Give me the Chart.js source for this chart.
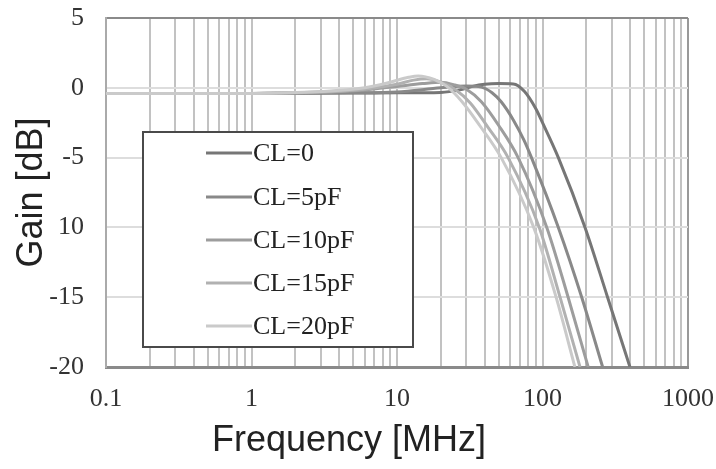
<!DOCTYPE html>
<html lang="en">
<head>
    <meta charset="UTF-8">
    <title>Gain vs Frequency</title>
    <script src="https://cdn.jsdelivr.net/npm/chart.js"></script>
    <style>
        body {
            margin: 0;
            background: white;
        }
        .chart-box {
            width: 716px;
            height: 469px;
        }
    </style>
</head>
<body>

    <div class="chart-box"><canvas id="gainChart"></canvas></div>

    <script>
        // series: frequency in MHz, gain in dB
        let seriesNames = ["CL=0", "CL=5pF", "CL=10pF", "CL=15pF", "CL=20pF"];

        let freqCL0 = [0.1, 1, 5, 10, 20, 27, 33, 40, 50, 63, 75, 90, 100, 128.5, 196, 280, 399];
        let gainCL0 = [-0.4, -0.4, -0.38, -0.36, -0.33, -0.15, 0.1, 0.25, 0.3, 0.28, -0.25, -1.5, -2.5, -5.0, -10.0, -15.0, -20.0];

        let freqCL5 = [0.1, 1, 5, 10, 20, 30, 38, 45, 52, 63, 75, 84, 128.5, 186, 259];
        let gainCL5 = [-0.4, -0.4, -0.36, -0.3, 0.0, 0.12, 0.05, -0.35, -1.0, -2.3, -3.8, -5.0, -10.0, -15.0, -20.0];

        let freqCL10 = [0.1, 1, 3, 6, 10, 15, 20, 25, 30, 38, 50, 68, 107, 150, 206];
        let gainCL10 = [-0.4, -0.4, -0.32, -0.15, 0.1, 0.3, 0.4, 0.2, -0.1, -1.0, -2.7, -5.0, -10.0, -15.0, -20.0];

        let freqCL15 = [0.1, 1, 3, 6, 10, 13, 16, 20, 25, 32, 42, 58, 95, 132, 181];
        let gainCL15 = [-0.4, -0.4, -0.3, -0.1, 0.25, 0.55, 0.65, 0.4, -0.1, -1.1, -2.8, -5.0, -10.0, -15.0, -20.0];

        let freqCL20 = [0.1, 1, 3, 6, 9, 12, 14, 18, 22, 28, 37, 52, 87, 124, 167];
        let gainCL20 = [-0.4, -0.4, -0.27, 0.0, 0.4, 0.75, 0.85, 0.6, 0.1, -1.0, -2.7, -5.0, -10.0, -15.0, -20.0];

        let lineColors = ["#767676", "#898989", "#9d9d9d", "#b1b1b1", "#cacaca"];

        // axis ticks and their printed labels
        let xGridValues = [];
        [0.1, 1, 10, 100].forEach(decade => {
            for (let m = 1; m <= 9; m++) xGridValues.push(+(decade * m).toPrecision(3));
        });
        xGridValues.push(1000);
        let xLabelValues = [0.1, 1, 10, 100, 1000];
        let xLabels = ["0.1", "1", "10", "100", "1000"];

        let yTickValues = [-20, -15, -10, -5, 0, 5];
        let yLabels = ["-20", "-15", "10", "-5", "0", "5"];

        let allFreqs = [freqCL0, freqCL5, freqCL10, freqCL15, freqCL20];
        let allGains = [gainCL0, gainCL5, gainCL10, gainCL15, gainCL20];

        let datasets = seriesNames.map((name, i) => ({
            label: name,
            data: allFreqs[i].map((f, j) => ({ x: f, y: allGains[i][j] })),
            borderColor: lineColors[i],
            borderWidth: 3,
            pointRadius: 0,
            fill: false,
            cubicInterpolationMode: 'monotone',
            clip: 0
        })).reverse();  // CL=0 drawn last, on top

        // legend box and x title drawn straight on the canvas
        const extrasPlugin = {
            id: 'extras',
            afterDatasetsDraw(chart) {
                let c = chart.ctx;
                c.save();
                c.fillStyle = "white";
                c.fillRect(143, 132, 270, 215);
                c.strokeStyle = "#4a4a4a";
                c.lineWidth = 2;
                c.strokeRect(143, 132, 270, 215);

                let rows = [153, 197, 240, 283, 326];
                c.font = "26px 'Liberation Serif'";
                c.textBaseline = "middle";
                c.textAlign = "left";
                seriesNames.forEach((name, i) => {
                    c.strokeStyle = lineColors[i];
                    c.lineWidth = 3;
                    c.beginPath();
                    c.moveTo(206, rows[i]);
                    c.lineTo(252, rows[i]);
                    c.stroke();
                    c.fillStyle = "#222";
                    c.fillText(name, 253, rows[i] + 1);
                });

                c.font = "36px 'Liberation Sans'";
                c.textAlign = "center";
                c.fillStyle = "#222";
                c.fillText("Frequency [MHz]", 349, 441);
                c.restore();
            }
        };

        let ctx = document.getElementById('gainChart').getContext('2d');
        let gainChart = new Chart(ctx, {
            type: 'line',
            data: { datasets: datasets },
            options: {
                responsive: true,
                maintainAspectRatio: false,
                animation: false,
                layout: { padding: { top: 18, right: 28, left: 0, bottom: 0 } },
                plugins: {
                    legend: { display: false },
                    tooltip: { enabled: false }
                },
                scales: {
                    x: {
                        type: 'logarithmic',
                        min: 0.1,
                        max: 1000,
                        afterBuildTicks: axis => {
                            axis.ticks = xGridValues.map(v => ({ value: v }));
                        },
                        afterFit: axis => {
                            axis.height = 102;
                            axis.paddingLeft = 0;
                            axis.paddingRight = 0;
                        },
                        ticks: {
                            autoSkip: false,
                            maxRotation: 0,
                            padding: 17,
                            color: "#333",
                            font: { family: "'Liberation Serif'", size: 26 },
                            callback: value => {
                                let k = xLabelValues.indexOf(value);
                                return k >= 0 ? xLabels[k] : "";
                            }
                        },
                        grid: {
                            drawTicks: false,
                            color: c => c.tick && c.tick.value === 1000 ? "#999" : "#c2c2c2",
                            lineWidth: 2
                        },
                        border: { color: "#8a8a8a", width: 3 }
                    },
                    y: {
                        min: -20,
                        max: 5,
                        afterBuildTicks: axis => {
                            axis.ticks = yTickValues.map(v => ({ value: v }));
                        },
                        afterFit: axis => {
                            axis.width = 106;
                            axis.paddingTop = 0;
                            axis.paddingBottom = 0;
                        },
                        ticks: {
                            padding: 22,
                            color: "#333",
                            font: { family: "'Liberation Serif'", size: 26 },
                            callback: value => {
                                let k = yTickValues.indexOf(value);
                                return k >= 0 ? yLabels[k] : "";
                            }
                        },
                        grid: {
                            drawTicks: false,
                            color: c => c.tick && c.tick.value === 5 ? "#8a8a8a" : "#dddddd",
                            lineWidth: 2
                        },
                        border: { color: "#aaaaaa", width: 2 },
                        title: {
                            display: true,
                            text: "Gain [dB]",
                            color: "#222",
                            font: { family: "'Liberation Sans'", size: 36 },
                            padding: { top: 10, bottom: 0 }
                        }
                    }
                }
            },
            plugins: [extrasPlugin]
        });
    </script>
</body>
</html>
